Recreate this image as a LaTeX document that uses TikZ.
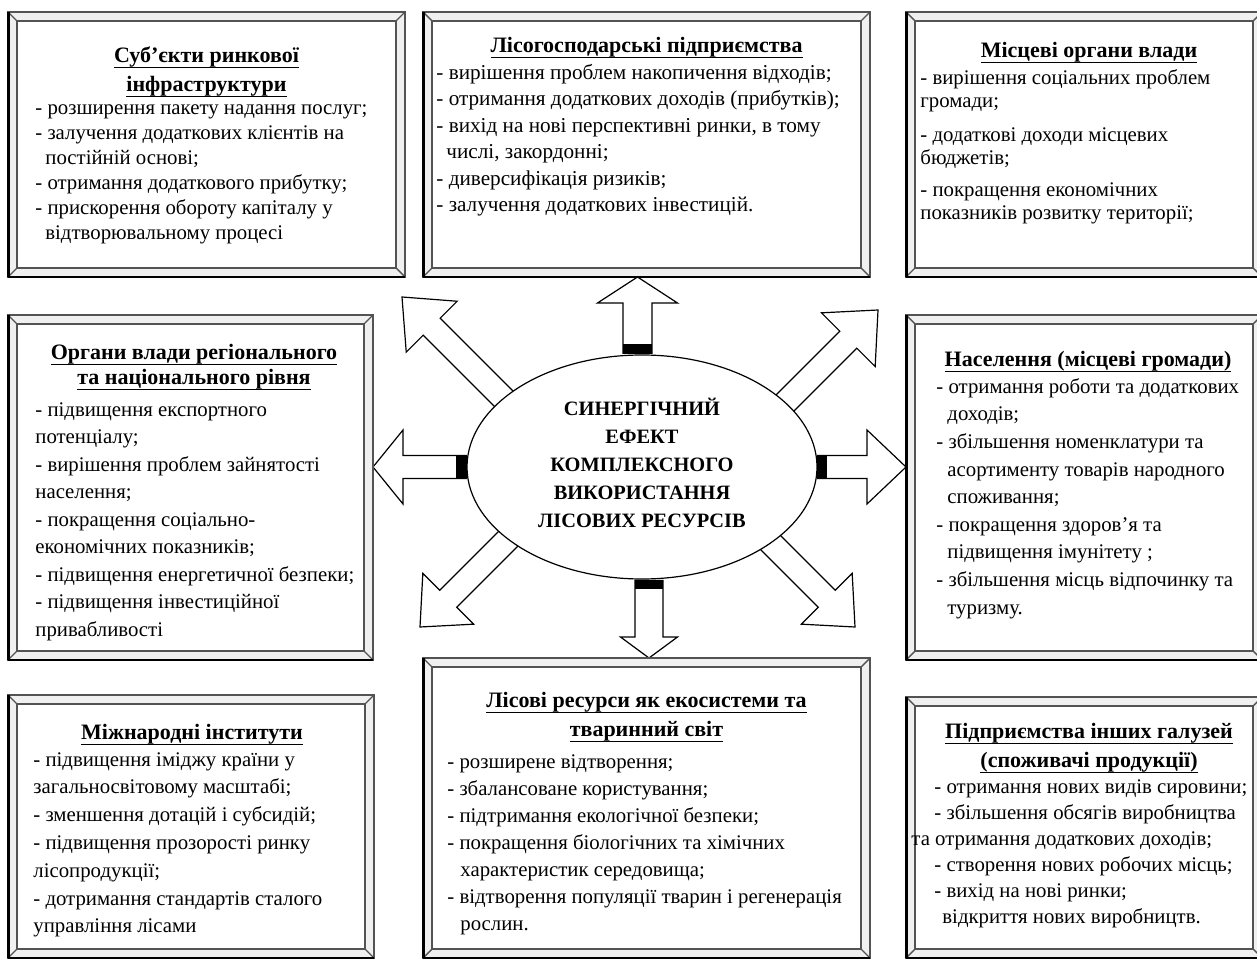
\documentclass[tikz,border=0pt]{standalone}
\usepackage{fontspec}
\setmainfont{Liberation Serif}
\usetikzlibrary{calc,shapes.geometric,positioning}
\pgfdeclarelayer{behind}
\pgfsetlayers{behind,main}
\tikzset{
    frame/.style={inner sep=0pt, outer sep=0pt, anchor=north west},
    frameline/.style={draw=gray!65!black, line width=0.7pt},
    frameedge/.style={draw=black, line width=1.5pt},
    bevel/.style={fill=gray!12},
    title/.style={font=\fontsize{11}{14.5}\selectfont\bfseries, align=center, anchor=north, inner sep=0pt},
    body/.style={font=\fontsize{10.4}{13.5}\selectfont, align=left, anchor=north west, inner sep=0pt},
    effect/.style={ellipse, draw, fill=white, line width=0.6pt, minimum width=175pt, minimum height=112pt,
        inner sep=0pt, font=\fontsize{10.2}{14}\selectfont\bfseries, align=center},
    blockarrow/.style={draw, fill=white, line width=0.6pt, line join=miter},
    band/.style={fill=black}
}
% underlined title line, rule at a fixed depth
\newcommand{\ttl}[1]{\setbox0\hbox{#1}\rlap{\rule[-2.8pt]{\wd0}{0.55pt}}\box0}
% bevelled frame round a box node
\newcommand{\bevelframe}[1]{%
    \fill[bevel] (#1.north west) rectangle (#1.south east);
    \fill[white] ($(#1.north west)+(9,9)$) rectangle ($(#1.south east)+(-9,-9)$);
    \draw[frameline] (#1.north west) rectangle (#1.south east);
    \draw[frameline] ($(#1.north west)+(9,9)$) rectangle ($(#1.south east)+(-9,-9)$);
    \draw[frameline] (#1.north west) -- ++(9,9) (#1.north east) -- ++(-9,9)
        (#1.south west) -- ++(9,-9) (#1.south east) -- ++(-9,-9);
    \draw[frameedge] (#1.north west) -- (#1.south west);
    \draw[frameline, line width=1pt, draw=black] (#1.south west) -- (#1.south east);
}
% hollow block arrow: from, to, shaft half width, head half width, head length
\newcommand{\fatarrow}[5]{%
    \coordinate (h) at ($(#2)!#5!(#1)$);
    \draw[blockarrow] ($(#1)!#3!90:(#2)$) -- ($(h)!#3!90:(#2)$) -- ($(h)!#4!90:(#2)$) -- (#2)
        -- ($(h)!#4!-90:(#2)$) -- ($(h)!#3!-90:(#2)$) -- ($(#1)!#3!-90:(#2)$) -- cycle;
}
% black band at the foot of an arrow: from, to, half width, length
\newcommand{\arrowband}[4]{%
    \coordinate (b) at ($(#1)!#4!(#2)$);
    \fill[band] ($(#1)!#3!90:(#2)$) -- ($(b)!#3!90:(#2)$) -- ($(b)!#3!-90:(#2)$) -- ($(#1)!#3!-90:(#2)$) -- cycle;
}

\begin{document}
\begin{tikzpicture}[x=0.5pt, y=-0.5pt]
    \useasboundingbox (0,0) rectangle (1257,961);
    \begin{pgfonlayer}{behind}
        \fill[white] (0,0) rectangle (1257,961);
    \end{pgfonlayer}
    \clip (0,0) rectangle (1257,961);

    % Top row
    \node[frame, minimum width=198.5pt, minimum height=132.5pt] (subj) at (8,12) {};
    \bevelframe{subj}
    \node[title] (subjtitle) at ($(subj.north)+(0,34)$) {\ttl{Суб’єкти ринкової}\\\ttl{інфраструктури}};
    \node[body, font=\fontsize{10.4}{12.5}\selectfont] (subjtext) at ($(subj.north west)+(27,92)$) {- розширення пакету надання послуг;\\
        - залучення додаткових клієнтів на\\\hspace*{5pt}постійній основі;\\
        - отримання додаткового прибутку;\\
        - прискорення обороту капіталу у\\\hspace*{5pt}відтворювальному процесі};

    \node[frame, minimum width=223.5pt, minimum height=132.5pt] (forest) at (423,12) {};
    \bevelframe{forest}
    \node[title] (foresttitle) at ($(forest.north)+(0,25)$) {\ttl{Лісогосподарські підприємства}};
    \node[body, font=\fontsize{10.6}{13.2}\selectfont] (foresttext) at ($(forest.north west)+(13,52)$) {- вирішення проблем накопичення відходів;\\
        - отримання додаткових доходів (прибутків);\\
        - вихід на нові перспективні ринки, в тому\\\hspace*{5pt}числі, закордонні;\\
        - диверсифікація ризиків;\\
        - залучення додаткових інвестицій.};

    \node[frame, minimum width=178pt, minimum height=132.5pt] (local) at (906,12) {};
    \bevelframe{local}
    \node[title] (localtitle) at ($(local.north)+(5,30)$) {\ttl{Місцеві органи влади}};
    \node[body, font=\fontsize{10.4}{11.5}\selectfont] (localtext) at ($(local.north west)+(14,57)$) {- вирішення соціальних проблем\\громади;\\[5.5pt]
        - додаткові доходи місцевих\\бюджетів;\\[4.5pt]
        - покращення економічних\\показників розвитку території;};

    % Middle row
    \node[frame, minimum width=182.5pt, minimum height=172.5pt] (gov) at (8,315) {};
    \bevelframe{gov}
    \node[title, font=\fontsize{11}{12.5}\selectfont\bfseries] (govtitle) at ($(gov.north)+(3.5,29)$) {\ttl{Органи влади регіонального}\\\ttl{та національного рівня}};
    \node[body, font=\fontsize{10.4}{13.75}\selectfont] (govtext) at ($(gov.north west)+(27,87)$) {- підвищення експортного\\потенціалу;\\
        - вирішення проблем зайнятості\\населення;\\
        - покращення соціально-\\економічних показників;\\
        - підвищення енергетичної безпеки;\\
        - підвищення інвестиційної\\привабливості};

    \node[frame, minimum width=178pt, minimum height=172.5pt] (people) at (906,315) {};
    \bevelframe{people}
    \node[title] (peopletitle) at ($(people.north)+(4,36)$) {\ttl{Населення (місцеві громади)}};
    \node[body, font=\fontsize{10.4}{13.8}\selectfont] (peopletext) at ($(people.north west)+(30,63)$) {- отримання роботи та додаткових\\\hspace*{5.5pt}доходів;\\
        - збільшення номенклатури та\\\hspace*{5.5pt}асортименту товарів народного\\\hspace*{5.5pt}споживання;\\
        - покращення здоров’я та\\\hspace*{5.5pt}підвищення імунітету ;\\
        - збільшення місць відпочинку та\\\hspace*{5.5pt}туризму.};

    % Bottom row
    \node[frame, minimum width=183pt, minimum height=131.5pt] (intl) at (8,695) {};
    \bevelframe{intl}
    \node[title] (intltitle) at ($(intl.north)+(1,29)$) {\ttl{Міжнародні інститути}};
    \node[body, font=\fontsize{10.4}{13.9}\selectfont] (intltext) at ($(intl.north west)+(25,57)$) {- підвищення іміджу країни у\\загальносвітовому масштабі;\\
        - зменшення дотацій і субсидій;\\
        - підвищення прозорості ринку\\лісопродукції;\\
        - дотримання стандартів сталого\\управління лісами};

    \node[frame, minimum width=223.5pt, minimum height=150pt] (eco) at (423,658) {};
    \bevelframe{eco}
    \node[title] (ecotitle) at ($(eco.north)+(0,34)$) {\ttl{Лісові ресурси як екосистеми та}\\\ttl{тваринний світ}};
    \node[body] (ecotext) at ($(eco.north west)+(24,96)$) {- розширене відтворення;\\
        - збалансоване користування;\\
        - підтримання екологічної безпеки;\\
        - покращення біологічних та хімічних\\\hspace*{6.5pt}характеристик середовища;\\
        - відтворення популяції тварин і регенерація\\\hspace*{6.5pt}рослин.};

    \node[frame, minimum width=178pt, minimum height=130.5pt] (ind) at (906,697) {};
    \bevelframe{ind}
    \node[title] (indtitle) at ($(ind.north)+(5,26)$) {\ttl{Підприємства інших галузей}\\\ttl{(споживачі продукції)}};
    \node[body, font=\fontsize{10.4}{13}\selectfont] (indtext) at ($(ind.north west)+(28,82)$) {- отримання нових видів сировини;\\
        - збільшення обсягів виробництва\\\hspace*{-11.5pt}та отримання додаткових доходів;\\
        - створення нових робочих місць;\\
        - вихід на нові ринки;\\\hspace*{4pt}відкриття нових виробництв.};

    % Centre
    \node[effect] (syn) at (642,467) {СИНЕРГІЧНИЙ\\ЕФЕКТ\\КОМПЛЕКСНОГО\\ВИКОРИСТАННЯ\\ЛІСОВИХ РЕСУРСІВ\\[-10pt]};

    % Arrows from the centre
    \coordinate (upbase) at ($(syn.north)+(-4.5,-1)$);
    \coordinate (uptip) at (upbase |- forest.south);
    \coordinate (downbase) at ($(syn.south)+(7,1)$);
    \coordinate (downtip) at (downbase |- eco.north);
    \coordinate (lefttip) at (gov.east |- syn.west);
    \coordinate (righttip) at (people.west |- syn.east);
    \coordinate (nwbase) at ($(syn.center)+(-120,-50)$);
    \coordinate (nwtip) at ($(subj.south east)+(-3,20)$);
    \coordinate (nebase) at ($(syn.center)+(116,-37)$);
    \coordinate (netip) at ($(forest.south east)+(8,33)$);
    \coordinate (swbase) at ($(syn.center)+(-92,30)$);
    \coordinate (swtip) at ($(eco.north west)+(-3,-31)$);
    \coordinate (sebase) at ($(syn.center)+(83,30)$);
    \coordinate (setip) at ($(eco.north east)+(-15,-31)$);
    \begin{pgfonlayer}{behind}
        \fatarrow{upbase}{uptip}{7.25pt}{20pt}{13pt}
        \fatarrow{downbase}{downtip}{7pt}{14.25pt}{10.5pt}
        \fatarrow{syn.west}{lefttip}{5.75pt}{18.5pt}{15pt}
        \fatarrow{syn.east}{righttip}{5.75pt}{18.5pt}{19.5pt}
        \fatarrow{nwbase}{nwtip}{6pt}{18pt}{21pt}
        \fatarrow{nebase}{netip}{6pt}{19pt}{21pt}
        \fatarrow{swbase}{swtip}{6pt}{18pt}{20pt}
        \fatarrow{sebase}{setip}{6pt}{18pt}{20pt}
    \end{pgfonlayer}
    \arrowband{upbase}{uptip}{7.25pt}{4.5pt}
    \arrowband{downbase}{downtip}{7pt}{4pt}
    \arrowband{syn.west}{lefttip}{5.75pt}{5pt}
    \arrowband{syn.east}{righttip}{5.75pt}{4.5pt}
\end{tikzpicture}
\end{document}
